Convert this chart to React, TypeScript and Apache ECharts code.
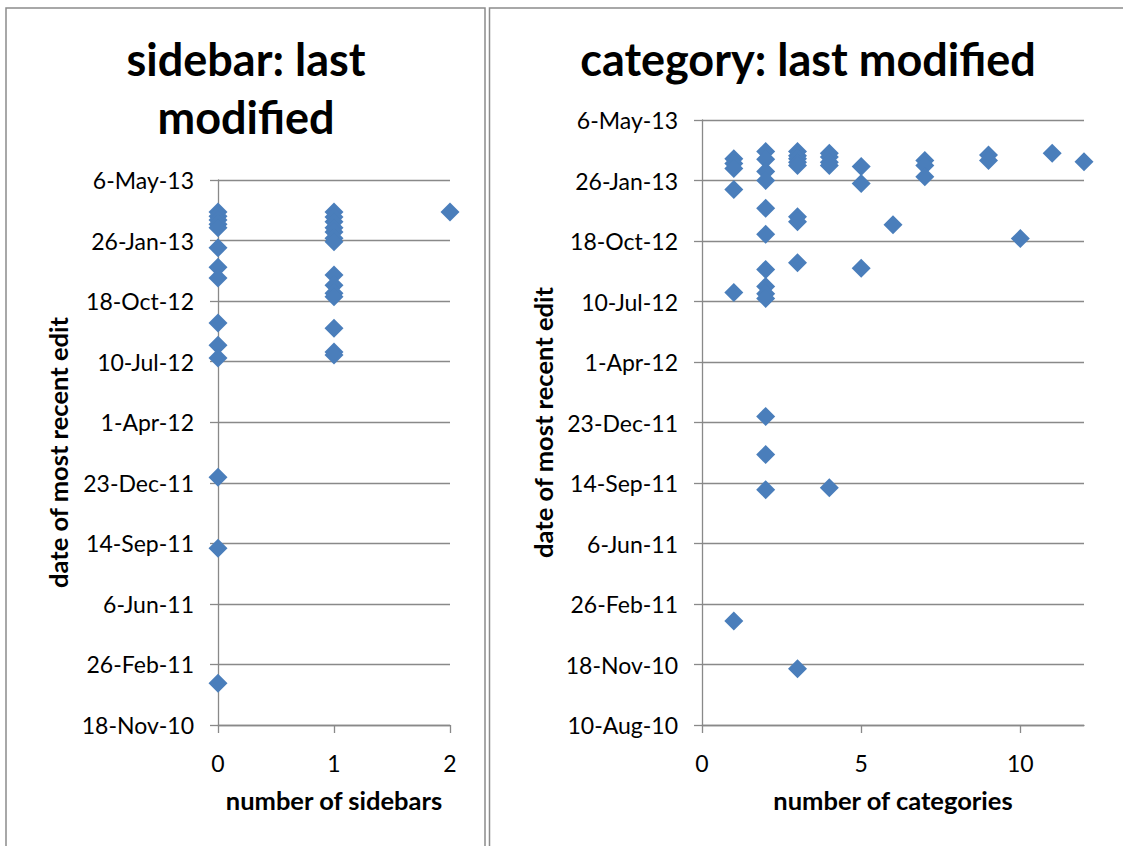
import React, { useEffect, useRef } from "react";
import * as echarts from "echarts";

// ---- data ----
const sidebarCounts = [
  0, 0, 0, 0, 0, 0, 0, 0, 0, 0, 0, 0, 0, 0,
  1, 1, 1, 1, 1, 1, 1, 1, 1, 1, 1, 1, 1, 1,
  2,
];
const sidebarDates = [
  "2013-03-14", "2013-03-07", "2013-03-01", "2013-02-22", "2013-02-16", "2013-01-14", "2012-12-13",
  "2012-11-25", "2012-09-12", "2012-08-06", "2012-07-16", "2012-01-01", "2011-09-06", "2011-01-26",
  "2013-03-14", "2013-03-06", "2013-02-26", "2013-02-16", "2013-02-09", "2013-01-30", "2013-01-24",
  "2012-11-30", "2012-11-13", "2012-10-31", "2012-10-25", "2012-09-03", "2012-07-26", "2012-07-21",
  "2013-03-14",
];

const categoryCounts = [
  1, 1, 1, 1, 1, 1,
  2, 2, 2, 2, 2, 2, 2, 2, 2, 2, 2, 2, 2,
  3, 3, 3, 3, 3, 3, 3, 3, 3,
  4, 4, 4, 4, 4,
  5, 5, 5,
  6,
  7, 7, 7,
  9, 9,
  10,
  11,
  12,
];
const categoryDates = [
  "2013-03-03", "2013-02-23", "2013-02-15", "2013-01-11", "2012-07-25", "2011-01-29",
  "2013-03-15", "2013-03-02", "2013-02-10", "2013-01-26", "2012-12-11", "2012-10-29", "2012-09-01",
  "2012-08-04", "2012-07-23", "2012-07-15", "2012-01-02", "2011-10-31", "2011-09-03",
  "2013-03-15", "2013-03-08", "2013-03-03", "2013-02-25", "2013-02-20", "2012-11-27", "2012-11-19",
  "2012-09-12", "2010-11-11",
  "2013-03-12", "2013-03-06", "2013-02-25", "2013-02-20", "2011-09-06",
  "2013-02-18", "2013-01-21", "2012-09-03",
  "2012-11-14",
  "2013-02-28", "2013-02-20", "2013-02-01",
  "2013-03-09", "2013-02-28",
  "2012-10-22",
  "2013-03-12",
  "2013-02-26",
];

// y-axis ticks (Excel date serials, 100-day steps)
const sidebarYTicks = { min: 40500, max: 41400, step: 100 };
const categoryYTicks = { min: 40400, max: 41400, step: 100 };
const sidebarXTicks = [0, 1, 2];
const categoryXTicks = [0, 5, 10];

const titles = ["sidebar: last\nmodified", "category: last modified"];
const yName = "date of most recent edit";
const xNames = ["number of sidebars", "number of categories"];

// ---- helpers ----
const MONTHS = ["Jan", "Feb", "Mar", "Apr", "May", "Jun", "Jul", "Aug", "Sep", "Oct", "Nov", "Dec"];
function toSerial(s: string): number {
  const [y, m, d] = s.split("-").map(Number);
  return Date.UTC(y, m - 1, d) / 86400000 + 25569;
}
function fmtSerial(v: number): string {
  const dt = new Date((v - 25569) * 86400000);
  const yy = String(dt.getUTCFullYear() % 100).padStart(2, "0");
  return `${dt.getUTCDate()}-${MONTHS[dt.getUTCMonth()]}-${yy}`;
}

const FONT = "Lato";
const GRID_COLOR = "#898989";
const MARK_COLOR = "#4a7ebb";

export default function App() {
  const ref = useRef<HTMLDivElement>(null);
  useEffect(() => {
    if (!ref.current) return;
    const chart = echarts.init(ref.current, null, { renderer: "svg" });

    const yAxisBase = (gridIndex: number, t: { min: number; max: number; step: number }, gap: number) => ({
      type: "value",
      gridIndex,
      min: t.min,
      max: t.max,
      interval: t.step,
      name: yName,
      nameLocation: "middle",
      nameRotate: 90,
      nameGap: gap,
      nameTextStyle: { fontFamily: FONT, fontSize: 25.5, fontWeight: "bold", color: "#000" },
      axisLine: { show: true, lineStyle: { color: GRID_COLOR, width: 1.3 } },
      axisTick: { show: true, length: 8, lineStyle: { color: GRID_COLOR, width: 1.3 } },
      axisLabel: {
        margin: 24,
        fontFamily: FONT,
        fontSize: 23,
        color: "#000",
        formatter: (v: number) => fmtSerial(v),
      },
      splitLine: { show: true, lineStyle: { color: GRID_COLOR, width: 1.3 } },
    });

    const xAxisBase = (gridIndex: number, max: number, interval: number, ticks: number[], name: string) => ({
      type: "value",
      gridIndex,
      min: 0,
      max,
      interval,
      name,
      nameLocation: "middle",
      nameGap: 62,
      nameTextStyle: { fontFamily: FONT, fontSize: 25.5, fontWeight: "bold", color: "#000" },
      axisLine: { show: true, onZero: false, lineStyle: { color: GRID_COLOR, width: 1.3 } },
      axisTick: { show: true, length: 8, customValues: ticks, lineStyle: { color: GRID_COLOR, width: 1.3 } },
      axisLabel: { margin: 26, fontFamily: FONT, fontSize: 23, color: "#000", customValues: ticks },
      splitLine: { show: false },
    });

    const option: any = {
      animation: false,
      backgroundColor: "#fff",
      textStyle: { fontFamily: FONT },
      graphic: [
        {
          type: "rect",
          shape: { x: 6, y: 8, width: 479, height: 900 },
          style: { fill: "none", stroke: "#8c8c8c", lineWidth: 1.5 },
          silent: true,
        },
        {
          type: "rect",
          shape: { x: 489.5, y: 8, width: 700, height: 900 },
          style: { fill: "none", stroke: "#8c8c8c", lineWidth: 1.5 },
          silent: true,
        },
        {
          type: "text",
          x: 246,
          y: 88,
          style: {
            text: titles[0],
            font: `bold 45px ${FONT}`,
            fill: "#000",
            align: "center",
            verticalAlign: "middle",
            textAlign: "center",
            textVerticalAlign: "middle",
            lineHeight: 58,
          },
        },
        {
          type: "text",
          x: 808,
          y: 59,
          style: {
            text: titles[1],
            font: `bold 45px ${FONT}`,
            fill: "#000",
            align: "center",
            verticalAlign: "middle",
            textAlign: "center",
            textVerticalAlign: "middle",
          },
        },
      ],
      grid: [
        { left: 218, top: 180, width: 232, height: 545 },
        { left: 702, top: 120, width: 382, height: 605 },
      ],
      xAxis: [
        xAxisBase(0, 2, 1, sidebarXTicks, xNames[0]),
        xAxisBase(1, 12, 5, categoryXTicks, xNames[1]),
      ],
      yAxis: [yAxisBase(0, sidebarYTicks, 147), yAxisBase(1, categoryYTicks, 146)],
      series: [
        {
          type: "scatter",
          xAxisIndex: 0,
          yAxisIndex: 0,
          symbol: "diamond",
          symbolSize: 19,
          itemStyle: { color: MARK_COLOR, opacity: 1 },
          data: sidebarCounts.map((c, i) => [c, toSerial(sidebarDates[i])]),
        },
        {
          type: "scatter",
          xAxisIndex: 1,
          yAxisIndex: 1,
          symbol: "diamond",
          symbolSize: 19,
          itemStyle: { color: MARK_COLOR, opacity: 1 },
          data: categoryCounts.map((c, i) => [c, toSerial(categoryDates[i])]),
        },
      ],
    };
    chart.setOption(option);
    return () => chart.dispose();
  }, []);

  return (
    <div
      ref={ref}
      style={{ position: "fixed", left: 0, top: 0, width: 1123, height: 846, background: "#fff" }}
    />
  );
}
